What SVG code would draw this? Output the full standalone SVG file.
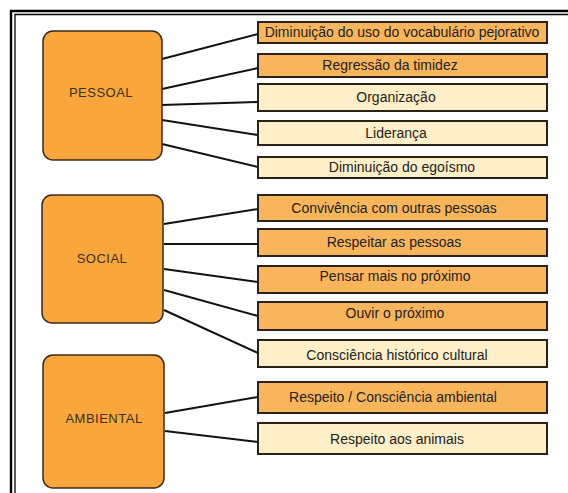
<svg xmlns="http://www.w3.org/2000/svg" width="568" height="493" viewBox="0 0 568 493">
<style>
.cat{fill:#F9A63D;stroke:#3a2a1a;stroke-width:1.5}
.it{stroke:#2a2118;stroke-width:2}
.or{fill:#F9B55C}
.pl{fill:#FFEFC8}
.ct{font-family:"Liberation Sans",Arial,sans-serif;font-size:13px;fill:#3a3020;text-anchor:middle;letter-spacing:0.5px}
.tx{font-family:"Liberation Sans",Arial,sans-serif;font-size:14px;fill:#222;text-anchor:middle}
.cn{stroke:#111;stroke-width:2;fill:none}
</style>
<rect width="568" height="493" fill="#fff"/>
<g id="frame" fill="none" stroke="#000">
<path d="M11 493 V11 H568" stroke-width="2.4"/>
<path d="M15 493 V14.5 H568" stroke-width="1.3"/>
</g>
<g id="connectors">
<line class="cn" x1="162" y1="59" x2="258" y2="34"/>
<line class="cn" x1="162" y1="89" x2="258" y2="68"/>
<line class="cn" x1="162" y1="105" x2="258" y2="102"/>
<line class="cn" x1="162" y1="120" x2="258" y2="135"/>
<line class="cn" x1="162" y1="144" x2="258" y2="167"/>
<line class="cn" x1="164" y1="224" x2="258" y2="209"/>
<line class="cn" x1="164" y1="244" x2="258" y2="244"/>
<line class="cn" x1="164" y1="269" x2="258" y2="282"/>
<line class="cn" x1="164" y1="290" x2="258" y2="316"/>
<line class="cn" x1="164" y1="310" x2="258" y2="353"/>
<line class="cn" x1="165" y1="413" x2="258" y2="397"/>
<line class="cn" x1="165" y1="431" x2="258" y2="442"/>
</g>
<g id="pessoal"><rect class="cat" x="43" y="31" width="119" height="129" rx="10"/><text class="ct" x="101" y="97">PESSOAL</text></g>
<g id="social"><rect class="cat" x="42" y="195" width="121" height="128" rx="10"/><text class="ct" x="102" y="263">SOCIAL</text></g>
<g id="ambiental"><rect class="cat" x="43" y="355" width="121" height="133" rx="10"/><text class="ct" x="104" y="423">AMBIENTAL</text></g>
<g id="n1"><rect class="it or" x="258" y="22" width="289" height="21"/><text class="tx" x="402" y="37">Diminuição do uso do vocabulário pejorativo</text></g>
<g id="n2"><rect class="it or" x="258" y="54" width="289" height="23"/><text class="tx" x="390" y="70">Regressão da timidez</text></g>
<g id="n3"><rect class="it pl" x="258" y="84" width="289" height="27"/><text class="tx" x="396" y="102">Organização</text></g>
<g id="n4"><rect class="it pl" x="258" y="121" width="289" height="24"/><text class="tx" x="396" y="138">Liderança</text></g>
<g id="n5"><rect class="it pl" x="258" y="157" width="289" height="21"/><text class="tx" x="402" y="172">Diminuição do egoísmo</text></g>
<g id="n6"><rect class="it or" x="258" y="195" width="289" height="26"/><text class="tx" x="394" y="213">Convivência com outras pessoas</text></g>
<g id="n7"><rect class="it or" x="258" y="229" width="289" height="27"/><text class="tx" x="394" y="247">Respeitar as pessoas</text></g>
<g id="n8"><rect class="it or" x="258" y="266" width="289" height="27"/><text class="tx" x="395" y="281">Pensar mais no próximo</text></g>
<g id="n9"><rect class="it or" x="258" y="302" width="289" height="28"/><text class="tx" x="395" y="318">Ouvir o próximo</text></g>
<g id="n10"><rect class="it pl" x="258" y="340" width="289" height="27"/><text class="tx" x="397" y="360">Consciência histórico cultural</text></g>
<g id="n11"><rect class="it or" x="258" y="382" width="289" height="31"/><text class="tx" x="393" y="402">Respeito / Consciência ambiental</text></g>
<g id="n12"><rect class="it pl" x="258" y="423" width="289" height="31"/><text class="tx" x="397" y="444">Respeito aos animais</text></g>
</svg>
